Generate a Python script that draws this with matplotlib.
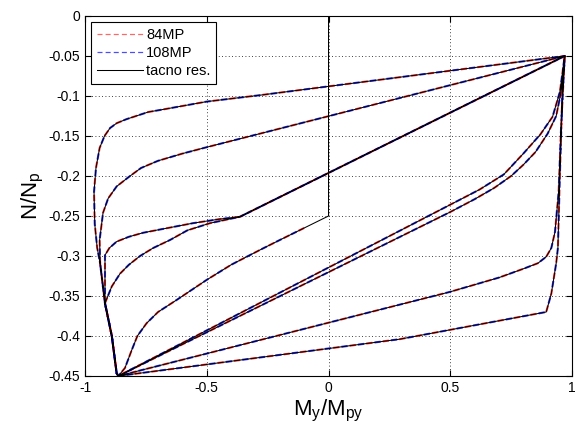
import numpy as np
import matplotlib.pyplot as plt

plt.rcParams['font.family'] = ['Liberation Sans', 'DejaVu Sans']

# load path in (M/Mpy, N/Np)
tacno_x = [0.0, 0.0,
           -0.1, -0.2, -0.282, -0.4, -0.501, -0.624, -0.7, -0.747, -0.785, -0.808, -0.836, -0.863,
           0.62, 0.72, 0.8, 0.87, 0.92, 0.95, 0.97,
           -0.282, -0.5, -0.692, -0.74, -0.78, -0.83, -0.87, -0.897, -0.92, -0.94, -0.955, -0.963, -0.96,
           -0.95, -0.938, -0.918, -0.89, -0.87, -0.863,
           0.292, 0.894, 0.915, 0.935, 0.942, 0.95, 0.96, 0.97,
           -0.5, -0.6, -0.7, -0.77, -0.815, -0.87, -0.905, -0.926, -0.94, -0.938,
           -0.918, -0.89, -0.87, -0.863,
           0.497, 0.7, 0.8, 0.86, 0.894, 0.915, 0.93, 0.945, 0.955, 0.97,
           -0.364, -0.45, -0.557, -0.66, -0.762, -0.82, -0.87, -0.9, -0.918,
           -0.918, -0.89, -0.87, -0.863,
           0.5, 0.6, 0.68, 0.75, 0.8, 0.85, 0.9, 0.935, 0.955, 0.97,
           -0.364, -0.487, -0.58, -0.651, -0.72, -0.774, -0.82, -0.856, -0.89, -0.918, -0.89, -0.87, -0.863]
tacno_y = [0.0, -0.25,
           -0.265, -0.28, -0.2925, -0.311, -0.33, -0.355, -0.37, -0.384, -0.4, -0.4175, -0.44, -0.45,
           -0.217, -0.198, -0.172, -0.148, -0.126, -0.095, -0.05,
           -0.099, -0.107, -0.1175, -0.12, -0.124, -0.129, -0.134, -0.14, -0.15, -0.165, -0.19, -0.22, -0.26,
           -0.29, -0.309, -0.359, -0.40, -0.4466, -0.45,
           -0.404, -0.37, -0.347, -0.309, -0.29, -0.2, -0.1, -0.05,
           -0.164, -0.172, -0.181, -0.19, -0.2, -0.213, -0.228, -0.246, -0.28, -0.309,
           -0.359, -0.40, -0.4466, -0.45,
           -0.345, -0.327, -0.316, -0.309, -0.301, -0.29, -0.27, -0.22, -0.14, -0.05,
           -0.251, -0.254, -0.259, -0.265, -0.271, -0.276, -0.282, -0.29, -0.299,
           -0.359, -0.40, -0.4466, -0.45,
           -0.245, -0.229, -0.215, -0.2, -0.186, -0.17, -0.147, -0.125, -0.095, -0.05,
           -0.251, -0.259, -0.268, -0.28, -0.29, -0.30, -0.311, -0.322, -0.338, -0.359, -0.40, -0.4466, -0.45]

# numerical results lie on top of the reference curve (no axial pre-load branch)
mp84_x, mp84_y = tacno_x[2:], tacno_y[2:]
mp108_x, mp108_y = tacno_x[2:], tacno_y[2:]

xticks = [-1, -0.5, 0, 0.5, 1]
yticks = [0, -0.05, -0.1, -0.15, -0.2, -0.25, -0.3, -0.35, -0.4, -0.45]

fig = plt.figure(figsize=(5.76, 4.3), dpi=100)
ax = fig.add_axes([0.1476, 0.1256, 0.8455, 0.8372])

l_84, = ax.plot(mp84_x, mp84_y, color='r', ls=(0, (3, 5)), lw=1.5, alpha=0.8, zorder=2)
l_108, = ax.plot(mp108_x, mp108_y, color='b', ls=(4, (3, 5)), lw=1.5, alpha=0.8, zorder=2)
l_tac, = ax.plot(tacno_x, tacno_y, 'k-', lw=0.75, zorder=3)

ax.set_xlim(-1, 1)
ax.set_ylim(-0.45, 0)
ax.set_xticks(xticks)
ax.set_xticklabels([str(t) for t in xticks])
ax.set_yticks(yticks)
ax.set_yticklabels(['0'] + [str(t) for t in yticks[1:]])
ax.tick_params(direction='in', labelsize=10, length=4, top=True, right=True)
ax.grid(True, ls=(0, (1, 3)), color='k', lw=0.6)
for s in ax.spines.values():
    s.set_linewidth(0.8)

ax.set_xlabel('M$_\\mathregular{y}$/M$_\\mathregular{py}$', fontsize=16, labelpad=2)
ax.set_ylabel('N/N$_\\mathregular{p}$', fontsize=16, labelpad=2)

h84, = ax.plot([], [], color='r', ls=(0, (4, 2.5)), lw=0.9, alpha=0.6)
h108, = ax.plot([], [], color='b', ls=(0, (4, 2.5)), lw=0.9, alpha=0.7)
leg = ax.legend([h84, h108, l_tac], ['84MP', '108MP', 'tacno res.'],
                loc='upper left', fontsize=10.5, fancybox=False, framealpha=1,
                edgecolor='k', borderaxespad=0.4, handlelength=3.2,
                handletextpad=0.2, labelspacing=0.3)
leg.get_frame().set_linewidth(0.8)

fig.savefig('out.png', dpi=100)
